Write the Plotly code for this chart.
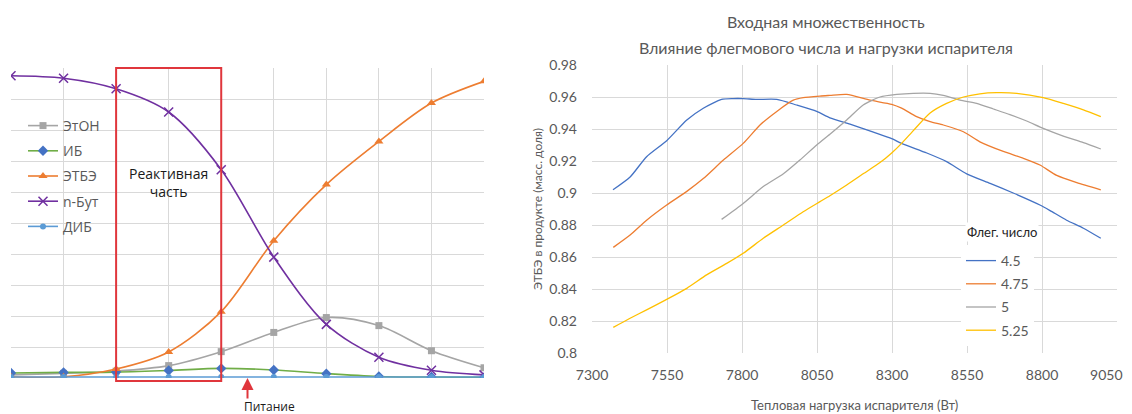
import plotly.graph_objects as go

# ---------------- Left chart data (column profile) ----------------
stages = [1, 2, 3, 4, 5, 6, 7, 8, 9, 10]
eton = [0.10, 0.15, 0.22, 0.40, 0.85, 1.47, 1.95, 1.69, 0.88, 0.33]
ib = [0.16, 0.18, 0.19, 0.24, 0.31, 0.26, 0.14, 0.05, 0.03, 0.02]
etbe = [0.04, 0.04, 0.29, 0.84, 2.14, 4.43, 6.24, 7.63, 8.87, 9.57]
nbut = [9.75, 9.67, 9.33, 8.58, 6.72, 3.90, 1.73, 0.67, 0.25, 0.10]
dib = [0.03, 0.03, 0.03, 0.03, 0.03, 0.03, 0.03, 0.03, 0.03, 0.03]
reactive_from, reactive_to = 3, 5
feed_stage = 5.5

# ---------------- Right chart data ----------------
x_45 = [7370, 7427, 7482, 7549, 7616, 7671, 7732, 7770, 7803, 7849, 7916, 7982, 8049, 8093,
        8160, 8238, 8299, 8332, 8416, 8482, 8549, 8627, 8704, 8793, 8827, 8882, 8938, 8996]
y_45 = [0.902, 0.910, 0.9227, 0.9327, 0.9456, 0.953, 0.9585, 0.959, 0.959, 0.9585, 0.9585, 0.955, 0.951, 0.947,
        0.943, 0.938, 0.934, 0.931, 0.925, 0.9196, 0.912, 0.906, 0.900, 0.8925, 0.889, 0.883, 0.878, 0.8717]

x_475 = [7371, 7427, 7482, 7549, 7616, 7671, 7738, 7804, 7860, 7916, 7971, 8004, 8060, 8093,
         8149, 8227, 8299, 8332, 8382, 8427, 8471, 8538, 8593, 8671, 8738, 8793, 8849, 8916, 8996]
y_475 = [0.866, 0.8737, 0.883, 0.8925, 0.901, 0.909, 0.9206, 0.931, 0.9425, 0.951, 0.958, 0.9596, 0.9606, 0.961,
         0.9616, 0.958, 0.9554, 0.953, 0.9477, 0.9446, 0.9425, 0.9383, 0.932, 0.926, 0.9217, 0.9175, 0.911, 0.9065, 0.902]

x_5 = [7732, 7804, 7871, 7938, 7993, 8049, 8093, 8149, 8204, 8260, 8316, 8371, 8427, 8471,
       8527, 8582, 8638, 8693, 8749, 8804, 8871, 8938, 8996]
y_5 = [0.8835, 0.8935, 0.904, 0.912, 0.9206, 0.930, 0.9367, 0.9456, 0.955, 0.960, 0.9616, 0.9623, 0.9623, 0.961,
       0.958, 0.956, 0.9525, 0.949, 0.945, 0.9404, 0.9356, 0.9315, 0.9275]

x_525 = [7371, 7427, 7482, 7549, 7616, 7682, 7749, 7804, 7871, 7938, 8004, 8060, 8093, 8149, 8204,
         8260, 8299, 8332, 8371, 8427, 8482, 8538, 8593, 8649, 8716, 8804, 8871, 8938, 8996]
y_525 = [0.816, 0.8217, 0.827, 0.8335, 0.8404, 0.8488, 0.856, 0.8623, 0.8717, 0.880, 0.8883, 0.8946, 0.8983, 0.905, 0.912,
         0.919, 0.925, 0.931, 0.939, 0.950, 0.956, 0.960, 0.962, 0.9627, 0.9623, 0.9596, 0.956, 0.952, 0.9477]

reflux_labels = ["4.5", "4.75", "5", "5.25"]
right_series = [(x_45, y_45), (x_475, y_475), (x_5, y_5), (x_525, y_525)]
right_colors = ["#4472C4", "#ED7D31", "#A5A5A5", "#FFC000"]

x_tick_vals = [7300, 7550, 7800, 8050, 8300, 8550, 8800, 9050]
x_tick_text = ["7300", "7550", "7800", "8050", "8300", "8550", "8800",
               "9050&nbsp;&nbsp;&nbsp;&nbsp;&nbsp;&nbsp;"]

# page body has an 8px margin: figure is drawn offset by 8px
OFF = 8
W, H = 1132 - OFF, 414 - OFF


def fx(px):
    return (px - OFF) / W


def fy(py):
    return 1 - (py - OFF) / H


L_FONT = "Open Sans"
R_FONT = "Lato, Open Sans"
GRID = "#D9D9D9"
TXT = "#595959"

fig = go.Figure()

left_specs = [
    ("ЭтОН", eton, "#A5A5A5", dict(symbol="square", size=7, color="#A5A5A5")),
    ("ИБ", ib, "#70AD47", dict(symbol="diamond", size=8, color="#4472C4")),
    ("ЭТБЭ", etbe, "#ED7D31", dict(symbol="triangle-up", size=8, color="#ED7D31")),
    ("n-Бут", nbut, "#7030A0", dict(symbol="x-thin", size=9, color="#7030A0",
                                    line=dict(width=1.5, color="#7030A0"))),
    ("ДИБ", dib, "#5B9BD5", dict(symbol="circle", size=6, color="#5B9BD5")),
]
for name, vals, lc, mk in left_specs:
    fig.add_trace(go.Scatter(
        x=stages, y=vals, name=name, mode="lines+markers",
        line=dict(color=lc, width=1.6, shape="spline", smoothing=0.9),
        marker=mk, xaxis="x", yaxis="y", legend="legend", legendgroup=name,
    ))

for lab, (xs, ys), col in zip(reflux_labels, right_series, right_colors):
    fig.add_trace(go.Scatter(
        x=xs, y=ys, name=lab, mode="lines",
        line=dict(color=col, width=1.3, shape="spline", smoothing=0.6),
        xaxis="x2", yaxis="y2", legend="legend2", legendgroup="r" + lab,
    ))

lx0, lx1 = fx(11), fx(484)
ly0, ly1 = fy(378), fy(68)
rx0, rx1 = fx(592), fx(1117)
ry0, ry1 = fy(353), fy(65)

fig.update_layout(
    width=W, height=H, autosize=False,
    margin=dict(l=0, r=0, t=0, b=0, autoexpand=False),
    paper_bgcolor="white", plot_bgcolor="white",
    showlegend=True,
    xaxis=dict(domain=[lx0, lx1], range=[1, 10], dtick=1, tick0=1, automargin=False,
               showgrid=True, gridcolor=GRID, gridwidth=1.2,
               showticklabels=False, zeroline=False, showline=False),
    yaxis=dict(domain=[ly0, ly1], range=[0, 10], dtick=1, automargin=False,
               showgrid=True, gridcolor=GRID, gridwidth=1.2,
               showticklabels=False, zeroline=False, showline=False),
    xaxis2=dict(domain=[rx0, rx1], range=[7300, 9050], tickmode="array",
                tickvals=x_tick_vals, ticktext=x_tick_text, automargin=False,
                showgrid=True, gridcolor=GRID, zeroline=False, showline=False,
                tickfont=dict(family=R_FONT, size=14, color=TXT),
                ticklabelstandoff=12, ticklabeloverflow="allow", anchor="y2"),
    yaxis2=dict(domain=[ry0, ry1], range=[0.8, 0.98], dtick=0.02, tick0=0.8, automargin=False,
                showgrid=True, gridcolor=GRID, zeroline=False, showline=False,
                tickfont=dict(family=R_FONT, size=14, color=TXT),
                ticklabelstandoff=14, ticklabeloverflow="allow", anchor="x2"),
    legend=dict(x=fx(23), y=fy(110), xanchor="left", yanchor="top",
                bgcolor="rgba(0,0,0,0)", tracegroupgap=4,
                font=dict(family=L_FONT, size=14, color=TXT)),
    legend2=dict(x=fx(961), y=fy(245), xanchor="left", yanchor="top",
                 bgcolor="white", tracegroupgap=2,
                 font=dict(family=R_FONT, size=14, color=TXT)),
)

# Reactive section box
fig.add_shape(type="rect", xref="x domain", yref="y domain",
              x0=(reactive_from - 1) / 9, x1=(reactive_to - 1) / 9,
              y0=-0.01, y1=1.0, line=dict(color="#E0363C", width=2),
              fillcolor="rgba(0,0,0,0)", layer="above")

fig.add_annotation(x=(reactive_from + reactive_to) / 2, y=6.3, xref="x", yref="y",
                   text="Реактивная<br>часть", showarrow=False,
                   xanchor="center", yanchor="middle",
                   font=dict(family=L_FONT, size=14, color="#1a1a1a"))

# Feed arrow
fig.add_annotation(x=feed_stage, y=0, xref="x", yref="y", text="", showarrow=True,
                   ax=0, ay=22, arrowhead=2, arrowsize=1.2, arrowwidth=2, arrowcolor="#E0363C")
fig.add_annotation(x=feed_stage - 0.1, y=fy(406), xref="x", yref="paper",
                   xanchor="left", yanchor="middle", text="Питание", showarrow=False,
                   font=dict(family=L_FONT, size=12, color="#1a1a1a"))

# Right chart titles
fig.add_annotation(x=fx(826), y=fy(22), xref="paper", yref="paper", showarrow=False,
                   xanchor="center", yanchor="middle",
                   text="Входная множественность",
                   font=dict(family=R_FONT, size=16, color=TXT))
fig.add_annotation(x=fx(826), y=fy(47), xref="paper", yref="paper", showarrow=False,
                   xanchor="center", yanchor="middle",
                   text="Влияние флегмового числа и нагрузки испарителя",
                   font=dict(family=R_FONT, size=16, color=TXT))
fig.add_annotation(x=(rx0 + rx1) / 2, y=fy(405), xref="paper", yref="paper", showarrow=False,
                   xanchor="center", yanchor="middle",
                   text="Тепловая нагрузка испарителя (Вт)",
                   font=dict(family=R_FONT, size=13, color=TXT))
fig.add_annotation(x=fx(537), y=(ry0 + ry1) / 2, xref="paper", yref="paper", showarrow=False,
                   xanchor="center", yanchor="middle",
                   text="ЭТБЭ в продукте (масс. доля)", textangle=-90,
                   font=dict(family=R_FONT, size=12, color=TXT))
# Legend title of the right chart
fig.add_annotation(x=fx(1002), y=fy(232), xref="paper", yref="paper", showarrow=False,
                   xanchor="center", yanchor="middle", bgcolor="white",
                   text="Флег. число",
                   font=dict(family=R_FONT, size=13, color="#262626"))

fig.write_html("out.html")
